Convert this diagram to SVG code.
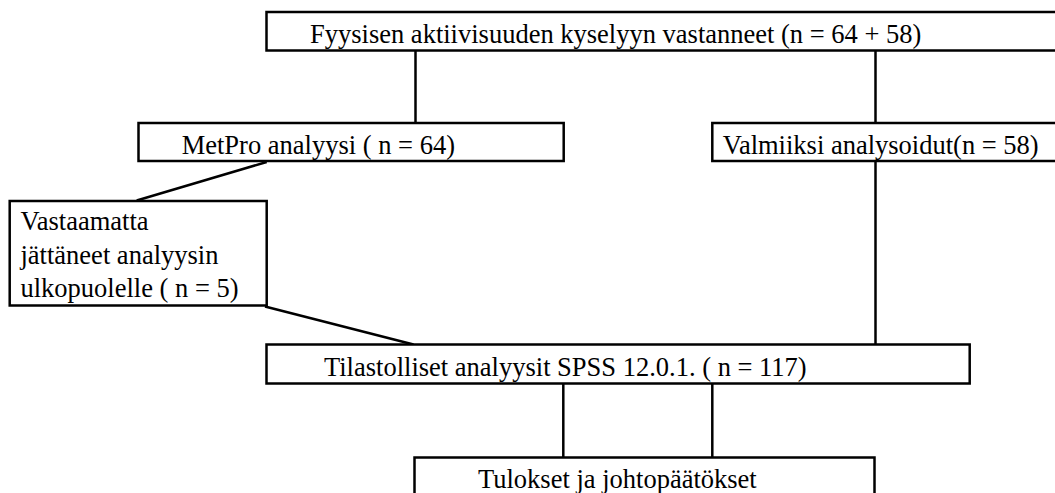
<svg xmlns="http://www.w3.org/2000/svg" width="1055" height="493" viewBox="0 0 1055 493">
<style>
.box{fill:#fff;stroke:#000;stroke-width:2.5}
.c{stroke:#000;stroke-width:2.5;fill:none}
.t{font-family:'Liberation Serif','Times New Roman',serif;font-size:26.5px;fill:#000}
</style>
<rect width="1055" height="493" fill="#fff"/>
<g id="connectors">
<line class="c" x1="415.5" y1="50.5" x2="415.5" y2="123"/>
<line class="c" x1="875.5" y1="50.5" x2="875.5" y2="123"/>
<line class="c" x1="266.7" y1="162" x2="136.7" y2="200.5"/>
<line class="c" x1="875.5" y1="161" x2="875.5" y2="344.5"/>
<line class="c" x1="265" y1="306.5" x2="413.5" y2="344.5"/>
<line class="c" x1="563.3" y1="383.5" x2="563.3" y2="457.5"/>
<line class="c" x1="712.3" y1="383.5" x2="712.3" y2="457.5"/>
</g>
<g id="top">
<rect class="box" x="266.5" y="12" width="800" height="38.5"/>
<text class="t" x="310" y="42.7">Fyysisen aktiivisuuden kyselyyn vastanneet (n = 64 + 58)</text>
</g>
<g id="metpro">
<rect class="box" x="138.5" y="123" width="425.2" height="38"/>
<text class="t" x="181.7" y="154">MetPro analyysi ( n = 64)</text>
</g>
<g id="valmiiksi">
<rect class="box" x="712.3" y="123" width="360" height="38"/>
<text class="t" x="722.7" y="154">Valmiiksi analysoidut(n = 58)</text>
</g>
<g id="vastaamatta">
<rect class="box" x="9.7" y="201" width="257" height="104.5"/>
<text class="t" x="20.5" y="230">Vastaamatta</text>
<text class="t" x="20.5" y="263.5">jättäneet analyysin</text>
<text class="t" x="20.5" y="297">ulkopuolelle ( n = 5)</text>
</g>
<g id="tilastolliset">
<rect class="box" x="266.5" y="344.5" width="703.2" height="39"/>
<text class="t" x="324" y="376">Tilastolliset analyysit SPSS 12.0.1. ( n = 117)</text>
</g>
<g id="tulokset">
<rect class="box" x="414.5" y="457.5" width="460" height="60"/>
<text class="t" x="478" y="488.3">Tulokset ja johtopäätökset</text>
</g>
</svg>
